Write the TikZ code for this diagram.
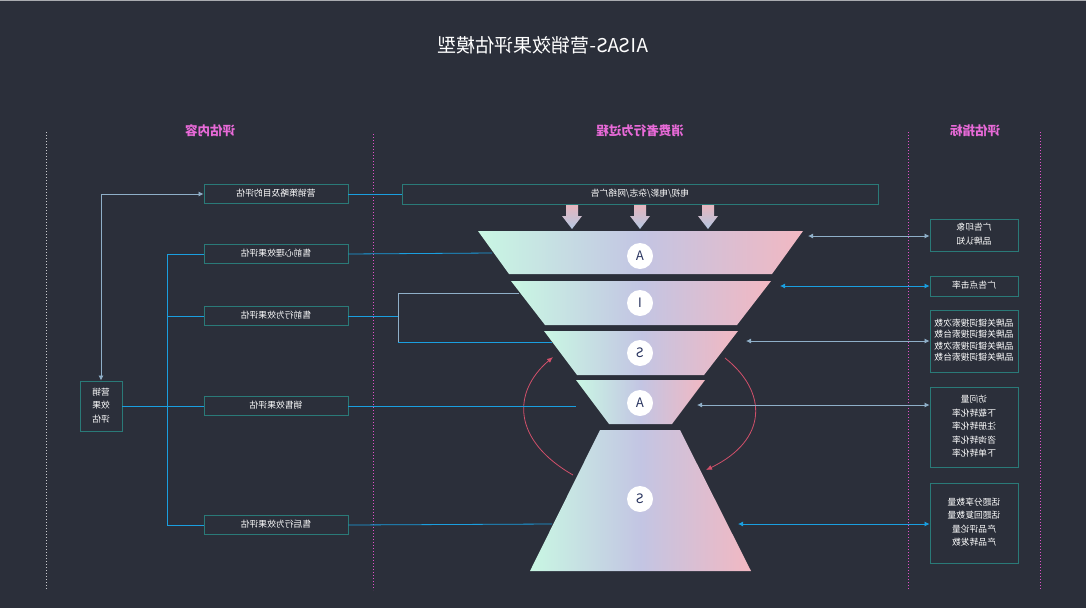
\documentclass[tikz,border=0pt]{standalone}
\usepackage{fontspec}
\usepackage{graphicx}
\setmainfont{Noto Sans CJK SC}
\usetikzlibrary{arrows.meta}
\definecolor{bg}{HTML}{2B2F3A}
\definecolor{boxc}{HTML}{2A7A78}
\definecolor{lnc}{HTML}{1A9FE0}
\definecolor{lng}{HTML}{8FAFC8}
\definecolor{hdc}{HTML}{E86AD8}
\definecolor{dotc}{HTML}{E050C8}
\definecolor{fgreen}{HTML}{C9F7E3}
\definecolor{fmid}{HTML}{C3C5E3}
\definecolor{fpink}{HTML}{F2B8C2}
\definecolor{arrtop}{HTML}{E8B4BC}
\definecolor{arrbot}{HTML}{B4C8E2}
\definecolor{curvec}{HTML}{D0506A}
\definecolor{letc}{HTML}{2A3560}
\newcommand\mt[1]{\reflectbox{\begin{tabular}{@{}c@{}}#1\end{tabular}}}
\begin{document}
\begin{tikzpicture}[x=1pt,y=-1pt,
  box/.style={draw=boxc, line width=0.9pt, text=white, inner sep=0pt,
    font=\fontsize{8.8}{13.4}\selectfont},
  ln/.style={draw=lnc, line width=0.8pt},
  lg/.style={draw=lng, line width=0.8pt},
  tips/.style={{Latex[length=5pt,width=5pt]}-{Latex[length=5pt,width=5pt]}},
  hd/.style={text=hdc, font=\fontsize{12.5}{14}\selectfont\bfseries},
  dots/.style={draw=dotc, line width=0.9pt, dash pattern=on 1pt off 2pt},
  funnel/.style={left color=fgreen, right color=fpink, middle color=fmid},
  ltr/.style={circle, fill=white, minimum size=26pt, inner sep=0pt, text=letc,
    font=\fontsize{13}{14}\selectfont},
  darr/.style={top color=arrtop, bottom color=arrbot},
  cur/.style={draw=curvec, line width=0.8pt, -{Latex[length=6pt,width=5pt]}}]
\fill[bg] (0,0) rectangle (1086,608);
\useasboundingbox (0,0) rectangle (1086,608);
\draw[white!60!bg, line width=0.6pt] (0,0.3) -- (1086,0.3);

% title and headers
\node[text=white, font=\fontsize{19}{22}\selectfont] (title) at (543,45) {\reflectbox{AISAS-营销效果评估模型}};
\node[hd] (h1) at (210,131) {\reflectbox{评估内容}};
\node[hd] (h2) at (640,131) {\reflectbox{消费者行为过程}};
\node[hd] (h3) at (975,131) {\reflectbox{评估指标}};

% dotted guides
\draw[dots, draw=white!75!bg] (46,132) -- (46,590);
\draw[dots] (373,134) -- (373,590);
\draw[dots] (908,132) -- (908,590);
\draw[dots] (1040,132) -- (1040,590);

% funnel
\shade[funnel] (478,231) -- (803,231) -- (772,274) -- (509,274) -- cycle;
\shade[funnel] (511,281) -- (771,281) -- (737,325) -- (545,325) -- cycle;
\shade[funnel] (544,331) -- (738,331) -- (704,375) -- (577,375) -- cycle;
\shade[funnel] (576,380) -- (705,380) -- (672,424) -- (609,424) -- cycle;
\shade[funnel] (600,430) -- (680,430) -- (751,571) -- (530,571) -- cycle;
\node[ltr] (c1) at (640,256) {\reflectbox{A}};
\node[ltr] (c2) at (640,303) {\reflectbox{I}};
\node[ltr] (c3) at (640,353) {\reflectbox{S}};
\node[ltr] (c4) at (640,403) {\reflectbox{A}};
\node[ltr] (c5) at (640,499) {\reflectbox{S}};

% down arrows
\foreach \x in {572,640,708} {
  \shade[darr] (\x-6,204) -- (\x+6,204) -- (\x+6,216) -- (\x+10,216) -- (\x,229) -- (\x-10,216) -- (\x-6,216) -- cycle;
}

% curved arrows
\coordinate (cl0) at (573,475);
\coordinate (cl1) at (553,357);
\coordinate (cr0) at (725,358);
\coordinate (cr1) at (706,470);
\draw[cur] (cl0) .. controls (512,440) and (512,392) .. (cl1);
\draw[cur] (cr0) .. controls (768,392) and (768,440) .. (cr1);

% left boxes
\node[box, minimum width=144pt, minimum height=19pt] (l1) at (276,194) {\mt{营销策略及目的评估}};
\node[box, minimum width=144pt, minimum height=19pt] (l2) at (276,254) {\mt{售前心理效果评估}};
\node[box, minimum width=144pt, minimum height=19pt] (l3) at (276,316) {\mt{售前行为效果评估}};
\node[box, minimum width=144pt, minimum height=19pt] (l4) at (276,406) {\mt{销售效果评估}};
\node[box, minimum width=144pt, minimum height=19pt] (l5) at (276,525) {\mt{售后行为效果评估}};
\node[box, minimum width=42pt, minimum height=50pt] (sm) at (101,406) {\mt{营销\\效果\\评估}};
\node[box, minimum width=476pt, minimum height=20pt] (wide) at (640,194) {\mt{电视/电影/杂志/网络广告}};

% right boxes
\node[box, minimum width=88pt, minimum height=32pt] (r1) at (974,235) {\mt{广告印象\\品牌认知}};
\node[box, minimum width=88pt, minimum height=20pt] (r2) at (974,286) {\mt{广告点击率}};
\node[box, minimum width=88pt, minimum height=62pt, font=\fontsize{8.8}{11.5}\selectfont] (r3) at (974,341) {\mt{品牌关键词搜索次数\\品牌关键词搜索台数\\品牌关键词搜索次数\\品牌关键词搜索台数}};
\node[box, minimum width=88pt, minimum height=80pt] (r4) at (974,427) {\mt{访问量\\下载转化率\\注册转化率\\咨询转化率\\下单转化率}};
\node[box, minimum width=88pt, minimum height=80pt] (r5) at (974,523) {\mt{话题分享数量\\话题回复数量\\产品评论量\\产品转发数}};

% coordinates on funnel
\coordinate (fa) at (492,253);
\coordinate (fi) at (519,293);
\coordinate (fs) at (552,342);
\coordinate (fa2) at (576,406);
\coordinate (fs2) at (552,524);
\coordinate (ra) at (808,236);
\coordinate (ri) at (780,286);
\coordinate (rs) at (746,341);
\coordinate (ra2) at (697,405);
\coordinate (rs2) at (738,524);
\coordinate (bt) at (167,254);
\coordinate (bb) at (167,525);
\coordinate (brt) at (398,293);
\coordinate (brb) at (398,342);

% left connectors
\draw[lg, tips] (l1.west) -| (sm.north);
\draw[ln] (l1.east) -- (wide.west);
\draw[ln] (sm.east) -- (l4.west);
\draw[ln] (l2.west) -- (bt) -- (bb) -- (l5.west);
\draw[ln] (l3.west) -- (l3.west -| bt);
\draw[ln] (l2.east) -- (fa);
\draw[ln] (l3.east) -- (l3.east -| brt);
\draw[lg] (brt) -- (brb);
\draw[lg] (brt) -- (fi);
\draw[ln] (brb) -- (fs);
\draw[ln] (l4.east) -- (fa2);
\draw[ln] (l5.east) -- (fs2);

% right connectors
\draw[lg, tips] (ra) -- (ra -| r1.west);
\draw[ln, tips] (ri) -- (ri -| r2.west);
\draw[lg, tips] (rs) -- (rs -| r3.west);
\draw[lg, tips] (ra2) -- (ra2 -| r4.west);
\draw[ln, tips] (rs2) -- (rs2 -| r5.west);
\end{tikzpicture}
\end{document}
